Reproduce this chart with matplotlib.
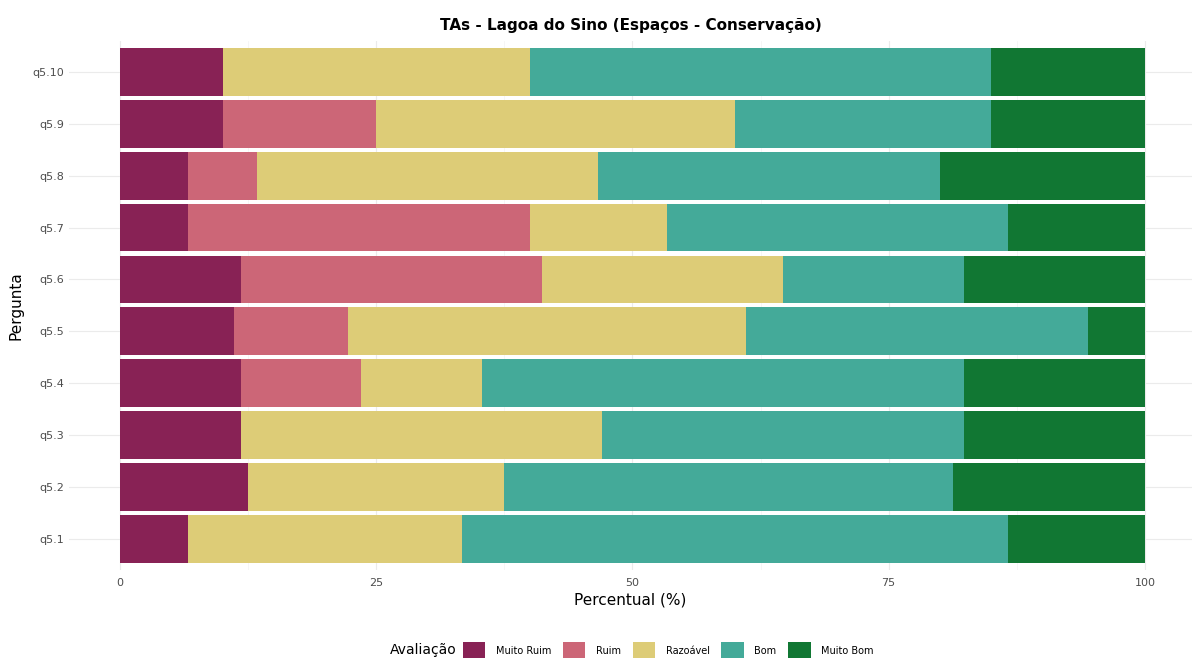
import numpy as np
import matplotlib
matplotlib.use("Agg")
import matplotlib.pyplot as plt
from matplotlib.patches import Patch

# Perguntas (de baixo para cima)
perguntas = ["q5.1", "q5.2", "q5.3", "q5.4", "q5.5", "q5.6", "q5.7", "q5.8", "q5.9", "q5.10"]
categorias = ["Muito Ruim", "Ruim", "Razoável", "Bom", "Muito Bom"]
cores = ["#882255", "#CC6677", "#DDCC77", "#44AA99", "#117733"]

# Percentuais por categoria
muito_ruim = [6.67, 12.5, 11.76, 11.76, 11.11, 11.76, 6.67, 6.67, 10.0, 10.0]
ruim       = [0.0, 0.0, 0.0, 11.76, 11.11, 29.41, 33.33, 6.67, 15.0, 0.0]
razoavel   = [26.67, 25.0, 35.29, 11.76, 38.89, 23.53, 13.33, 33.33, 35.0, 30.0]
bom        = [53.33, 43.75, 35.29, 47.06, 33.33, 17.65, 33.33, 33.33, 25.0, 45.0]
muito_bom  = [13.33, 18.75, 17.65, 17.65, 5.56, 17.65, 13.33, 20.0, 15.0, 15.0]

series = [muito_ruim, ruim, razoavel, bom, muito_bom]

fig = plt.figure(figsize=(11.92, 6.58), dpi=100)
ax = fig.add_axes([0.0577, 0.134, 0.9423, 0.804])

y = np.arange(1, len(perguntas) + 1)
left = np.zeros(len(perguntas))
for vals, cor in zip(series, cores):
    ax.barh(y, vals, left=left, height=0.92, color=cor, linewidth=0, zorder=2)
    left += np.array(vals)

ax.set_xlim(-5, 104.6)
ax.set_ylim(0.4, len(perguntas) + 0.6)
ax.set_yticks(y)
ax.set_yticklabels(perguntas)
ax.set_xticks([0, 25, 50, 75, 100])
ax.set_xticks([12.5, 37.5, 62.5, 87.5], minor=True)
ax.tick_params(axis="both", which="both", length=0, labelsize=8, colors="#4d4d4d")
ax.tick_params(axis="x", pad=6)
ax.grid(True, which="major", color="#ebebeb", linewidth=0.8, zorder=0)
ax.grid(True, which="minor", axis="x", color="#f3f3f3", linewidth=0.5, zorder=0)
for s in ax.spines.values():
    s.set_visible(False)

ax.set_xlabel("Percentual (%)", fontsize=11, labelpad=3)
ax.set_ylabel("Pergunta", fontsize=11, labelpad=6)
ax.set_title("TAs - Lagoa do Sino (Espaços - Conservação)", fontsize=11, fontweight="bold", pad=8)

# Legenda na parte de baixo
handles = [Patch(facecolor=c, edgecolor="none") for c in cores]
fig.text(0.327, 0.012, "Avaliação", fontsize=10, va="center")
fig.legend(handles, categorias, loc="lower left", bbox_to_anchor=(0.381, -0.015),
           ncol=5, frameon=False, fontsize=7, handlelength=2.3, handleheight=2.3,
           columnspacing=1.2, handletextpad=1.1)

fig.savefig("out.png", dpi=100, facecolor="white")
